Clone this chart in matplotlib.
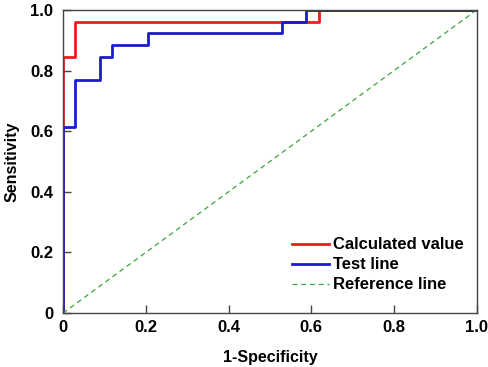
import matplotlib
matplotlib.use('Agg')
import matplotlib.pyplot as plt

plt.rcParams['font.family'] = ['Liberation Sans', 'DejaVu Sans']
plt.rcParams['font.weight'] = 'bold'

# ROC steps (1-specificity, sensitivity)
calc_fpr = [0, 0, 1/34, 1/34, 21/34, 21/34, 1.0]
calc_tpr = [0, 22/26, 22/26, 25/26, 25/26, 1.0, 1.0]

test_fpr = [0, 0, 1/34, 1/34, 3/34, 3/34, 4/34, 4/34, 7/34, 7/34, 18/34, 18/34, 20/34, 20/34, 1.0]
test_tpr = [0, 16/26, 16/26, 20/26, 20/26, 22/26, 22/26, 23/26, 23/26, 24/26, 24/26, 25/26, 25/26, 1.0, 1.0]

ref_x = [0, 1]
ref_y = [0, 1]

tick_vals = [0, 0.2, 0.4, 0.6, 0.8, 1.0]
tick_text = ['0', '0.2', '0.4', '0.6', '0.8', '1.0']

fig = plt.figure(figsize=(4.89, 3.67), dpi=100)
ax = fig.add_axes([0.129, 0.147, 0.846, 0.826])

ax.plot(calc_fpr, calc_tpr, color='#ee1c1c', lw=2, label='Calculated value')
ax.plot(test_fpr, test_tpr, color='#1c1ccc', lw=2, label='Test line')
ax.plot(ref_x, ref_y, color='#3aa53a', lw=0.9, ls=(0, (4, 3)), label='Reference line')

ax.set_xlim(0, 1)
ax.set_ylim(0, 1)
ax.set_xticks(tick_vals)
ax.set_yticks(tick_vals)
ax.set_xticklabels(tick_text, fontsize=12, fontweight='bold')
ax.set_yticklabels(tick_text, fontsize=12, fontweight='bold')
ax.tick_params(direction='in', length=6, width=1, color='#444444')
ax.tick_params(axis='x', pad=5)
ax.tick_params(axis='y', pad=7)
for s in ax.spines.values():
    s.set_color('#444444')
    s.set_linewidth(1)

ax.set_xlabel('1-Specificity', fontsize=11.5, fontweight='bold', labelpad=11)
ax.set_ylabel('Sensitivity', fontsize=11.5, fontweight='bold')
ax.yaxis.set_label_coords(-0.105, 0.5)

ax.legend(loc='lower right', bbox_to_anchor=(1.008, 0.013), frameon=False,
          handlelength=2.2, handletextpad=0.25, labelspacing=0.3, borderaxespad=0.6,
          prop={'weight': 'bold', 'size': 12})

fig.savefig('out.png', dpi=100)
